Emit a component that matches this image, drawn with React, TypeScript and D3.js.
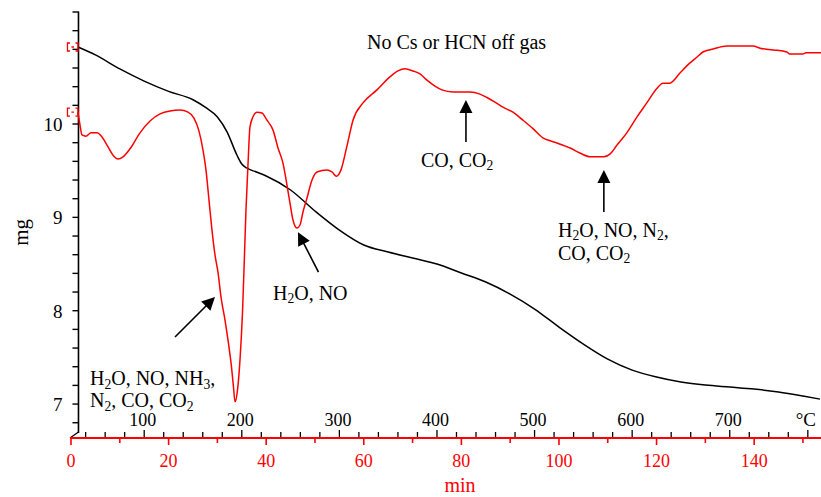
import React from "react";
import * as d3 from "d3";

const W = 821;
const H = 497;
const FONT = "'Liberation Serif', 'Times New Roman', Times, serif";
const RED = "#ff0000";

// Thermogravimetric trace: time (min) vs sample mass (mg)
const tgTime = [1.43, 5, 10, 15, 20, 25, 27.5, 30, 32, 34, 35, 36, 38, 40, 45, 50, 55, 60, 65, 70, 75, 80, 85, 90, 95, 100, 105, 110, 115, 120, 125, 130, 135, 140, 145, 150, 153.5];
const tgMass = [10.825, 10.74, 10.59, 10.46, 10.35, 10.26, 10.18, 10.075, 9.914, 9.668, 9.571, 9.529, 9.486, 9.443, 9.293, 9.068, 8.864, 8.704, 8.629, 8.564, 8.5, 8.404, 8.307, 8.178, 8.018, 7.825, 7.643, 7.482, 7.364, 7.289, 7.236, 7.203, 7.182, 7.161, 7.129, 7.086, 7.053];

// Evolved-gas / heat-flow signal: time (min) vs signal (arbitrary units)
const sigTime = [1.43, 1.84, 2.25, 3.07, 4.1, 5.33, 6.35, 7.38, 8.61, 9.63, 10.66, 12.09, 14.14, 16.19, 18.24, 20.29, 22.34, 23.98, 25.2, 26.23, 27.05, 27.66, 28.28, 28.89, 29.51, 30.12, 30.74, 31.56, 32.17, 32.89, 33.3, 33.61, 34.12, 34.63, 35.14, 35.45, 35.86, 36.27, 36.68, 37.3, 38.11, 39.14, 40.16, 41.39, 42.42, 43.44, 44.26, 44.88, 45.49, 46.31, 46.93, 47.54, 48.36, 49.39, 50.41, 52.46, 53.48, 54.41, 55.33, 56.56, 57.79, 59.84, 62.7, 65.37, 67.01, 68.44, 70.08, 71.52, 72.95, 74.59, 76.02, 78.28, 81.76, 83.81, 85.25, 86.89, 88.52, 90.57, 92.62, 94.67, 96.72, 98.16, 99.59, 101.2, 102.3, 104.3, 106.4, 107.8, 109.2, 110.5, 111.9, 113.9, 116.0, 118.0, 120.1, 121.3, 122.7, 124.8, 126.2, 128.3, 129.5, 131.6, 134.4, 139.8, 141.2, 143.9, 146.7, 147.3, 150.0, 150.6, 153.7];
const sigValue = [76.2, 73.2, 70.8, 70.5, 71.3, 71.3, 70.3, 68.4, 66.0, 65.1, 65.6, 67.5, 71.3, 74.1, 75.8, 76.5, 76.7, 76.2, 74.8, 71.7, 67.2, 62.5, 55.3, 48.2, 42.3, 38.2, 32.3, 26.8, 22.1, 15.7, 10.9, 7.4, 10.2, 17.3, 28.5, 38.7, 53.0, 63.7, 72.7, 75.1, 76.2, 76.0, 74.3, 72.0, 67.7, 64.1, 58.9, 54.6, 50.6, 48.7, 49.4, 52.5, 55.8, 60.1, 62.0, 62.5, 62.0, 61.0, 62.5, 68.2, 74.3, 78.4, 81.5, 84.6, 86.0, 86.5, 86.0, 85.3, 83.8, 82.4, 81.5, 81.0, 81.0, 80.5, 79.7, 78.6, 77.4, 76.2, 74.3, 72.3, 70.1, 69.4, 68.9, 68.2, 67.7, 66.5, 65.6, 65.6, 65.6, 66.3, 68.4, 71.3, 75.1, 78.4, 81.9, 83.1, 83.1, 85.5, 87.2, 89.3, 90.5, 91.2, 91.9, 91.9, 91.4, 91.0, 90.5, 90.0, 90.0, 90.3, 90.3];

// Axis ticks
const massLabels = [7, 8, 9, 10];
const massMinorStep = 0.2;
const timeLabels = [0, 20, 40, 60, 80, 100, 120, 140];
const timeMinorStep = 10;
const tempLabels = [100, 200, 300, 400, 500, 600, 700];
const tempMinorStep = 20;
const tempUnit = "°C";
const startTemp = 25; // °C at t = 0
const heatingRate = 5; // K/min

// Annotations: arrow from tail to tip (time, signal), text lines (use _n for subscripts)
const annotations = [
  { tip: [29.51, 32.3], tail: [21.31, 22.8], at: [3.89, 11.4], lines: ["H_2O, NO, NH_3,", "N_2, CO, CO_2"], gap: 22 },
  { tip: [46.52, 47.7], tail: [50.72, 38.2], at: [41.39, 31.6], lines: ["H_2O, NO"], gap: 20 },
  { tip: [80.94, 79.1], tail: [80.94, 69.1], at: [71.72, 63.2], lines: ["CO, CO_2"], gap: 20 },
  { tip: [109.2, 62.5], tail: [109.2, 52.5], at: [99.8, 46.6], lines: ["H_2O, NO, N_2,", "CO, CO_2"], gap: 23 },
];
const title = { at: [60.66, 91.2], text: "No Cs or HCN off gas" };

const xScale = d3.scaleLinear().domain([0, 153.7]).range([71, 821]);
const yMass = d3.scaleLinear().domain([6.69, 11.2]).range([433, 12]);
const ySig = d3.scaleLinear().domain([0, 100]).range([433, 12]);
const xTemp = (T: number) => xScale((T - startTemp) / heatingRate);

const AXIS_Y = 438;
const MASS_X = xScale(tgTime[0]) + 0.5;
const NOTE_SIZE = 20;

function SubText({ text, x, y, size = NOTE_SIZE, fill = "#000" }: { text: string; x: number; y: number; size?: number; fill?: string }) {
  const parts = text.split(/(_\d)/).filter((p) => p.length > 0);
  const shift = 3.5;
  let shifted = false;
  return (
    <text x={x} y={y} fontFamily={FONT} fontSize={size} fill={fill}>
      {parts.map((p, i) => {
        if (p.startsWith("_")) {
          shifted = true;
          return (
            <tspan key={i} dy={shift} fontSize={size * 0.68}>
              {p.slice(1)}
            </tspan>
          );
        }
        const dy = shifted ? -shift : 0;
        shifted = false;
        return (
          <tspan key={i} dy={dy}>
            {p}
          </tspan>
        );
      })}
    </text>
  );
}

function Arrow({ x1, y1, x2, y2 }: { x1: number; y1: number; x2: number; y2: number }) {
  const len = Math.hypot(x2 - x1, y2 - y1);
  const ux = (x2 - x1) / len;
  const uy = (y2 - y1) / len;
  const hl = 13;
  const hw = 6.5;
  const bx = x2 - ux * hl;
  const by = y2 - uy * hl;
  const px = -uy;
  const py = ux;
  return (
    <g>
      <line x1={x1} y1={y1} x2={bx + ux} y2={by + uy} stroke="#000" strokeWidth={1.6} />
      <path d={`M${x2},${y2}L${bx + px * hw},${by + py * hw}L${bx - px * hw},${by - py * hw}Z`} fill="#000" />
    </g>
  );
}

function StartMarker({ y }: { y: number }) {
  const x = MASS_X - 11;
  return (
    <path
      d={`M${x + 2.5},${y - 4}H${x}V${y + 4}H${x + 2.5}M${x + 4},${y}H${x + 6.5}M${x + 8},${y - 4}H${x + 10.5}V${y + 4}H${x + 8}`}
      fill="none"
      stroke={RED}
      strokeWidth={1.3}
    />
  );
}

export default function App() {
  const tgLine = d3
    .line<number>()
    .x((_, i) => xScale(tgTime[i]))
    .y((d) => yMass(d))
    .curve(d3.curveMonotoneX);
  const sigLine = d3
    .line<number>()
    .x((_, i) => xScale(sigTime[i]))
    .y((d) => ySig(d))
    .curve(d3.curveMonotoneX);

  const massTicks = d3.range(6.8, 11.2001, massMinorStep);
  const timeTicks = d3.range(0, 153.7, timeMinorStep);
  const tempTicks = d3.range(40, 781, tempMinorStep);

  return (
    <svg width={W} height={H} style={{ position: "absolute", left: 0, top: 0 }}>
      <rect width={W} height={H} fill="#fff" />

      {/* mass axis */}
      <line x1={MASS_X} y1={yMass(11.2) - 0.5} x2={MASS_X} y2={yMass(6.69)} stroke="#000" strokeWidth={1.6} />
      <line x1={MASS_X} y1={yMass(6.69) - 1} x2={xScale(0) - 1} y2={AXIS_Y} stroke="#000" strokeWidth={1.3} />
      {massTicks.map((v) => (
        <line key={v.toFixed(1)} x1={MASS_X - 6} x2={MASS_X} y1={yMass(v)} y2={yMass(v)} stroke="#000" strokeWidth={1.4} />
      ))}
      {massLabels.map((v) => (
        <text key={v} x={MASS_X - 16} y={yMass(v) + 7} textAnchor="end" fontFamily={FONT} fontSize={19} fill="#000">
          {v}
        </text>
      ))}
      <text transform={`translate(28,${yMass(9.0) + 15}) rotate(-90)`} textAnchor="middle" fontFamily={FONT} fontSize={21} fill="#000">
        mg
      </text>

      {/* temperature ticks (black, above the time axis) */}
      {tempTicks.map((T) => {
        const major = T % 100 === 0 || T === 780;
        const x = xTemp(T);
        return <line key={T} x1={x} x2={x} y1={AXIS_Y - (major ? 8 : 6)} y2={AXIS_Y} stroke="#000" strokeWidth={1.3} />;
      })}
      {tempLabels.map((T) => (
        <text key={T} x={xTemp(T) - 1.5} y={426} textAnchor="middle" fontFamily={FONT} fontSize={18} fill="#000">
          {T}
        </text>
      ))}
      <text x={xTemp(780) - 2} y={426} textAnchor="middle" fontFamily={FONT} fontSize={19} fill="#000">
        {tempUnit}
      </text>

      {/* time axis (red) */}
      <line x1={xScale(0) - 1} x2={W} y1={AXIS_Y} y2={AXIS_Y} stroke={RED} strokeWidth={2} />
      {timeTicks.map((t) => {
        const major = t % 20 === 0;
        const x = xScale(t);
        return <line key={t} x1={x} x2={x} y1={AXIS_Y} y2={AXIS_Y + (major ? 7 : 5)} stroke={RED} strokeWidth={1.6} />;
      })}
      {timeLabels.map((t) => (
        <text key={t} x={xScale(t)} y={467} textAnchor="middle" fontFamily={FONT} fontSize={18} fill={RED}>
          {t}
        </text>
      ))}
      <text x={460} y={492} textAnchor="middle" fontFamily={FONT} fontSize={20} fill={RED}>
        min
      </text>

      {/* curves */}
      <path d={tgLine(tgMass) || ""} fill="none" stroke="#000" strokeWidth={1.5} />
      <path d={sigLine(sigValue) || ""} fill="none" stroke={RED} strokeWidth={1.5} />
      <StartMarker y={yMass(tgMass[0])} />
      <StartMarker y={ySig(sigValue[0])} />

      {/* annotations */}
      <text x={xScale(title.at[0])} y={ySig(title.at[1])} fontFamily={FONT} fontSize={NOTE_SIZE} fill="#000">
        {title.text}
      </text>
      {annotations.map((a, i) => (
        <g key={i}>
          <Arrow x1={xScale(a.tail[0])} y1={ySig(a.tail[1])} x2={xScale(a.tip[0])} y2={ySig(a.tip[1])} />
          {a.lines.map((ln, j) => (
            <SubText key={j} text={ln} x={xScale(a.at[0])} y={ySig(a.at[1]) + j * a.gap} />
          ))}
        </g>
      ))}
    </svg>
  );
}
